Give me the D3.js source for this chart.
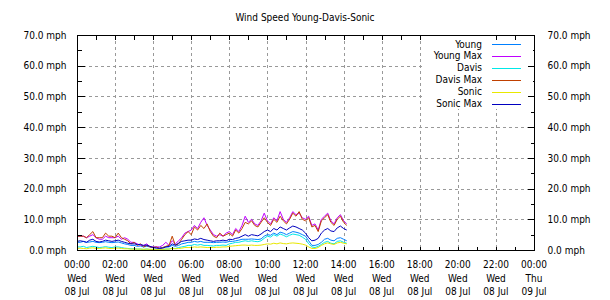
<!DOCTYPE html>
<html><head><meta charset="utf-8">
<script src="https://cdn.jsdelivr.net/npm/d3@7"></script>
<style>
body{margin:0;background:#fff;}
svg{display:block;}
text{font-family:"DejaVu Sans Condensed","DejaVu Sans",sans-serif;font-size:10px;fill:#000;}
</style></head><body>
<svg id="chart" width="610" height="300"></svg>
<script>
const title = "Wind Speed Young-Davis-Sonic";
const seriesNames = ["Young","Young Max","Davis","Davis Max","Sonic","Sonic Max"];
const seriesColors = ["#0080ff","#c000ff","#00e8e8","#c04000","#e8e800","#0000c0"];
const yTicks = [0,10,20,30,40,50,60,70];
const xTickHours = [0,2,4,6,8,10,12,14,16,18,20,22,24];
const dayLabels = ["Wed","Wed","Wed","Wed","Wed","Wed","Wed","Wed","Wed","Wed","Wed","Wed","Thu"];
const dateLabels = ["08 Jul","08 Jul","08 Jul","08 Jul","08 Jul","08 Jul","08 Jul","08 Jul","08 Jul","08 Jul","08 Jul","08 Jul","09 Jul"];
const startTime = Date.UTC(2020,6,8,0,0);
const stepMinutes = 10;

// 10-minute samples 00:00 .. 14:10
const young = [2.5,2.5,2.8,2.5,2.6,2.8, 2.5,2.4,2.5,2.7,2.5,2.4, 2.5,2.6,2.3,2.0,1.8,1.5, 1.5,1.2,1.3,1.0,1.2,1.0, 0.8,0.8,0.7,0.8,1.0,1.0, 1.5,1.2,1.5,2.0,2.2,2.5, 2.5,2.8,2.6,2.8,2.5,2.5, 2.5,2.4,2.5,2.5,2.6,2.5, 2.8,2.8,3.0,3.2,3.5,3.5, 3.5,3.6,3.5,3.4,3.6,4.5, 5.0,4.8,5.5,5.0,5.8,5.5, 5.0,5.5,6.0,5.8,5.5,5.0, 4.5,3.0,1.5,1.5,1.8,2.5, 3.5,3.8,3.2,3.0,3.8,4.0, 3.5,3.0];
const youngMax = [4.5,4.5,4.5,4.0,4.5,5.0, 4.0,3.5,3.5,4.5,4.0,4.0, 4.0,4.5,3.5,4.0,3.5,2.5, 2.5,2.0,1.5,1.5,2.0,1.0, 1.0,1.0,1.0,1.5,2.5,1.5, 3.0,2.0,3.0,4.0,5.5,6.0, 6.5,8.0,7.0,9.0,10.5,8.0, 6.5,5.0,4.5,5.0,4.5,5.5, 6.0,5.0,7.0,6.0,8.0,11.0, 9.0,10.0,8.5,8.0,9.5,12.0, 9.5,8.5,10.5,9.5,12.5,10.0, 9.0,10.5,12.5,11.5,12.0,10.5, 10.0,11.0,8.0,8.5,6.5,10.0, 11.0,12.0,9.5,8.5,10.5,11.5, 9.5,8.5];
const davis = [1.0,1.0,1.2,0.8,1.0,1.2, 1.0,0.8,0.9,1.1,0.9,0.8, 1.0,1.0,0.8,0.6,0.5,0.4, 0.4,0.3,0.3,0.2,0.3,0.2, 0.2,0.2,0.2,0.2,0.3,0.3, 0.6,0.5,0.8,1.0,1.2,1.5, 1.5,1.8,1.6,1.8,1.5,1.5, 1.4,1.3,1.5,1.5,1.6,1.5, 2.0,2.2,2.5,2.5,2.8,3.0, 2.8,3.0,2.8,2.7,3.0,3.8, 4.5,4.2,5.0,4.5,5.2,4.8, 4.3,4.8,5.2,5.0,4.8,4.2, 3.5,2.0,1.0,0.8,1.2,1.8, 2.5,2.8,2.2,2.0,2.8,3.0, 2.5,2.2];
const davisMax = [4.5,4.5,4.5,4.0,5.0,6.0, 4.0,4.0,4.0,5.5,4.5,4.5, 4.0,5.5,4.0,3.5,3.0,2.0, 2.5,1.5,2.0,1.0,1.5,1.0, 0.8,1.0,0.5,0.8,1.2,1.5, 4.5,1.5,2.0,3.5,5.0,6.0, 5.0,7.5,6.5,8.0,7.0,8.5, 6.0,4.5,4.0,5.5,4.5,5.0, 5.5,4.5,6.5,5.5,7.0,9.0, 8.5,9.5,8.0,7.5,9.0,10.5, 9.0,8.0,10.0,9.0,11.0,9.5, 8.5,10.0,12.0,11.0,12.5,10.0, 9.5,10.5,7.5,8.0,6.0,9.5, 10.5,11.5,9.0,8.0,10.0,11.0, 9.0,8.0];
const sonic = [0.5,0.6,0.5,0.4,0.6,0.7, 0.5,0.5,0.6,0.7,0.5,0.5, 0.6,0.6,0.5,0.4,0.4,0.3, 0.3,0.3,0.3,0.2,0.3,0.2, 0.2,0.2,0.2,0.2,0.3,0.3, 0.5,0.4,0.5,0.6,0.8,0.8, 0.8,1.0,0.9,1.0,0.9,0.8, 0.8,0.8,0.9,0.9,1.0,1.0, 1.2,1.3,1.4,1.5,1.6,1.6, 1.5,1.6,1.5,1.5,1.6,1.8, 2.0,1.9,2.2,2.0,2.3,2.1, 2.0,2.2,2.3,2.2,2.1,1.9, 1.6,1.0,0.5,0.5,0.8,1.5, 2.0,2.3,2.0,1.8,2.3,2.5, 2.2,2.0];
const sonicMax = [2.8,3.0,2.8,2.5,3.2,3.5, 2.8,2.6,2.8,3.2,3.0,2.8, 3.0,3.2,2.8,2.5,2.2,2.0, 2.0,1.8,1.8,1.5,1.6,1.2, 0.8,0.6,0.5,0.6,1.0,1.2, 2.0,1.6,2.2,2.8,3.0,3.2, 3.2,3.6,3.4,3.8,3.4,3.2, 3.0,2.8,3.0,3.0,3.2,3.0, 3.5,3.4,3.8,4.0,4.5,5.0, 4.5,5.0,4.8,4.6,5.2,6.0, 6.5,6.0,7.0,6.5,7.5,7.0, 6.5,7.2,7.8,7.5,7.0,6.5, 5.5,4.0,3.0,3.2,3.8,5.5, 6.5,7.0,6.2,6.0,7.2,7.8, 7.0,6.5];

const allSeries = [young, youngMax, davis, davisMax, sonic, sonicMax];

const svg = d3.select("#chart");
const L = 77, R = 534, T = 35, B = 250;
const x = d3.scaleUtc().domain([new Date(startTime), new Date(startTime + 24*3600e3)]).range([L, R]);
const y = d3.scaleLinear().domain([0,70]).range([B, T]);

// title
svg.append("text").attr("x", 305).attr("y", 21).attr("text-anchor","middle").text(title);

// gridlines
const grid = svg.append("g").attr("stroke","#999").attr("stroke-dasharray","3,3").attr("shape-rendering","crispEdges");
xTickHours.slice(1,-1).forEach(h => {
  const xx = Math.round(x(new Date(startTime + h*3600e3))) + 0.5;
  grid.append("line").attr("x1",xx).attr("x2",xx).attr("y1",T).attr("y2",B);
});
yTicks.slice(1,-1).forEach(v => {
  const yy = Math.round(y(v)) + 0.5;
  grid.append("line").attr("x1",L).attr("x2",R).attr("y1",yy).attr("y2",yy);
});

// series lines
const line = d3.line()
  .x((d,i) => x(new Date(startTime + i*stepMinutes*60e3)))
  .y(d => y(d));
allSeries.forEach((s,k) => {
  svg.append("path").datum(s).attr("d", line).attr("fill","none")
    .attr("stroke", seriesColors[k]).attr("stroke-width",1);
});

// axes (inward ticks)
const hourTicks = d3.utcHour.every(1).range(new Date(startTime), new Date(startTime + 24*3600e3 + 1));
const xBottom = d3.axisBottom(x).tickValues(hourTicks).tickSize(-4).tickFormat("");
const xTop = d3.axisTop(x).tickValues(hourTicks).tickSize(-4).tickFormat("");
const minorY = d3.range(0, 71, 5);
const yLeft = d3.axisLeft(y).tickValues(minorY).tickSize(-4).tickFormat("");
const yRight = d3.axisRight(y).tickValues(minorY).tickSize(-4).tickFormat("");
[[xBottom,`translate(0,${B+0.5})`],[xTop,`translate(0,${T+0.5})`],[yLeft,`translate(${L+0.5},0)`],[yRight,`translate(${R+0.5},0)`]].forEach(([ax,tr]) => {
  const g = svg.append("g").attr("transform",tr).call(ax);
  g.select(".domain").remove();
  g.selectAll("line").attr("stroke","#000").attr("shape-rendering","crispEdges");
});

// legend boxes
svg.append("rect").attr("x",422).attr("y",36).attr("width",66).attr("height",73).attr("fill","#fff");
svg.append("rect").attr("x",488).attr("y",40).attr("width",45).attr("height",69).attr("fill","#fff");
seriesNames.forEach((n,k) => {
  const yy = 44 + k*11.9;
  svg.append("text").attr("x",482).attr("y",yy).attr("dy","0.35em").attr("text-anchor","end").text(n);
  svg.append("line").attr("x1",492).attr("x2",521).attr("y1",Math.round(yy)+0.5).attr("y2",Math.round(yy)+0.5)
    .attr("stroke",seriesColors[k]).attr("stroke-width",1);
});

// frame
svg.append("rect").attr("x",L+0.5).attr("y",T+0.5).attr("width",R-L).attr("height",B-T)
  .attr("fill","none").attr("stroke","#000").attr("shape-rendering","crispEdges");

// major y ticks longer, with labels
const yMajL = d3.axisLeft(y).tickValues(yTicks).tickSize(-7).tickFormat(d => d.toFixed(1) + " mph").tickPadding(11);
const yMajR = d3.axisRight(y).tickValues(yTicks).tickSize(-7).tickFormat(d => d.toFixed(1) + " mph").tickPadding(13);
[[yMajL,`translate(${L+0.5},0)`],[yMajR,`translate(${R+0.5},0)`]].forEach(([ax,tr]) => {
  const g = svg.append("g").attr("transform",tr).call(ax);
  g.select(".domain").remove();
  g.selectAll("line").attr("stroke","#000").attr("shape-rendering","crispEdges");
  g.selectAll("text").attr("font-size",null).attr("font-family",null).attr("fill","#000");
});

// x labels
const xLab = svg.append("g");
xTickHours.forEach((h,i) => {
  const xx = x(new Date(startTime + h*3600e3));
  const hh = String(h % 24).padStart(2,"0") + ":00";
  [hh, dayLabels[i], dateLabels[i]].forEach((t,j) => {
    xLab.append("text").attr("x",xx).attr("y",268 + j*13.5).attr("text-anchor","middle").text(t);
  });
});
</script></body></html>
